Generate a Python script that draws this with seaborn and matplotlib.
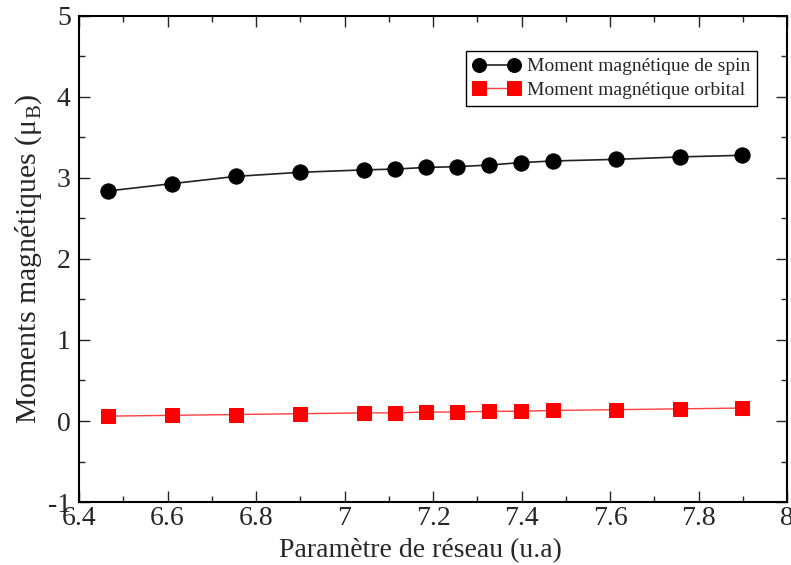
import numpy as np
import pandas as pd
import matplotlib
matplotlib.use("Agg")
import matplotlib.pyplot as plt
import seaborn as sns
from matplotlib.ticker import MultipleLocator

sns.set_style("ticks")
plt.rcParams['font.family'] = ['Liberation Serif', 'DejaVu Serif']
plt.rcParams['mathtext.fontset'] = 'custom'
plt.rcParams['mathtext.rm'] = 'Liberation Serif'
plt.rcParams['axes.unicode_minus'] = False

# lattice parameter (u.a)
lattice = [6.466, 6.610, 6.755, 6.899, 7.043, 7.113, 7.183, 7.255, 7.327, 7.398, 7.470, 7.614, 7.757, 7.899]
# spin magnetic moment (muB)
spin = [2.84, 2.93, 3.02, 3.07, 3.10, 3.11, 3.13, 3.14, 3.16, 3.19, 3.21, 3.23, 3.26, 3.28]
# orbital magnetic moment (muB)
orbital = [0.06, 0.07, 0.08, 0.09, 0.10, 0.10, 0.11, 0.11, 0.12, 0.12, 0.13, 0.14, 0.15, 0.16]
xtick_labels = ["6.4", "6.6", "6.8", "7", "7.2", "7.4", "7.6", "7.8", "8"]

df = pd.DataFrame({"a": lattice, "spin": spin, "orb": orbital})

fig = plt.figure(figsize=(7.91, 5.65), dpi=100)
ax = fig.add_axes([0.0999, 0.1115, 0.8951, 0.8602])

sns.lineplot(data=df, x="a", y="spin", ax=ax, color="#222222", lw=1.2,
             marker="o", markersize=11, markeredgecolor="black", markerfacecolor="black",
             label="Moment magnétique de spin")
sns.lineplot(data=df, x="a", y="orb", ax=ax, color="#ff4040", lw=1,
             marker="s", markersize=10, markeredgecolor="#ff0000", markerfacecolor="#ff0000",
             label="Moment magnétique orbital")

ax.set_xlim(6.4, 8)
ax.set_ylim(-1, 5)
ax.set_xticks(np.arange(6.4, 8.01, 0.2))
ax.set_xticklabels(xtick_labels)
ax.xaxis.set_minor_locator(MultipleLocator(0.1))
ax.yaxis.set_major_locator(MultipleLocator(1))
ax.yaxis.set_minor_locator(MultipleLocator(0.5))
ax.tick_params(which="both", direction="in", top=True, right=True, labelsize=20)
ax.tick_params(axis="x", pad=3)
ax.tick_params(axis="y", pad=6)
ax.tick_params(which="major", length=8, width=1)
ax.tick_params(which="minor", length=4, width=1)
for s in ax.spines.values():
    s.set_linewidth(1.5)
    s.set_color("black")

ax.set_xlabel("Paramètre de réseau (u.a)", fontsize=20, labelpad=0)
ax.xaxis.set_label_coords(0.482, -0.075)
ax.set_ylabel("Moments magnétiques (μ$_\\mathrm{B}$)", fontsize=21.5, labelpad=4)
ax.yaxis.set_label_coords(-0.05, 0.5)

leg = ax.legend(loc="upper right", bbox_to_anchor=(0.958, 0.928), fontsize=14,
                frameon=True, fancybox=False, edgecolor="black", framealpha=1,
                numpoints=2, handlelength=2.4, borderpad=0.35, labelspacing=0.3,
                handletextpad=0.4, borderaxespad=0)
leg.get_frame().set_linewidth(1)
for h in leg.legend_handles:
    h.set_markersize(10)

fig.savefig("out.png", dpi=100)
